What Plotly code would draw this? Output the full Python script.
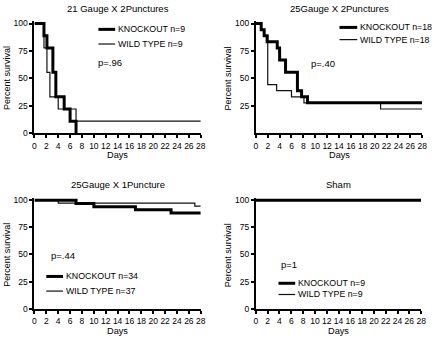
import plotly.graph_objects as go

W, H = 436, 341

# ---------------- data ----------------
titles = ["21 Gauge X 2Punctures", "25Gauge X 2Punctures", "25Gauge X 1Puncture", "Sham"]
p_values = ["p=.96", "p=.40", "p=.44", "p=1"]
ko_labels = ["KNOCKOUT n=9", "KNOCKOUT n=18", "KNOCKOUT n=34", "KNOCKOUT n=9"]
wt_labels = ["WILD TYPE n=9", "WILD TYPE n=18", "WILD TYPE n=37", "WILD TYPE n=9"]

p1_ko_days = [0, 1.6, 2.1, 3.1, 3.6, 5.0, 6.0, 7.0]
p1_ko_surv = [100, 88.9, 77.8, 55.6, 33.3, 22.2, 11.1, 0]
p1_wt_days = [0, 1.6, 2.1, 2.6, 4.0, 7.0, 28]
p1_wt_surv = [100, 77.8, 55.6, 33.3, 22.2, 11.1, 11.1]

p2_ko_days = [0, 0.9, 1.4, 1.9, 3.6, 4.0, 5.0, 7.0, 7.7, 8.7, 28]
p2_ko_surv = [100, 94.4, 88.9, 83.3, 77.8, 66.7, 55.6, 38.9, 33.3, 27.8, 27.8]
p2_wt_days = [0, 0.9, 1.4, 2.0, 3.5, 6.0, 8.1, 21.0, 28]
p2_wt_surv = [100, 94.4, 88.9, 44.4, 38.9, 33.3, 27.8, 22.2, 22.2]

p3_ko_days = [0, 7, 10, 17, 23, 28]
p3_ko_surv = [100, 97.1, 94.1, 91.2, 88.2, 88.2]
p3_wt_days = [0, 4, 27, 28]
p3_wt_surv = [100, 97.3, 94.6, 94.6]

p4_ko_days = [0, 28]
p4_ko_surv = [100, 100]
p4_wt_days = [0, 28]
p4_wt_surv = [100, 100]

x_ticks = list(range(0, 29, 2))
y_ticks_full = [0, 25, 50, 75, 100]
y_ticks_no0 = [25, 50, 75, 100]

# ---------------- layout geometry (pixels) ----------------
# (x0_px, x28_px, y0_px, y100_px)
panels = [
    (33, 202, 133.5, 21),
    (258, 427, 133.5, 21),
    (33, 202, 313, 202),
    (258, 426, 313, 202),
]
YMAX = 102.0

def px(xp):
    return xp / W

def py(yp):
    return 1 - yp / H

series = [
    (p1_ko_days, p1_ko_surv, p1_wt_days, p1_wt_surv),
    (p2_ko_days, p2_ko_surv, p2_wt_days, p2_wt_surv),
    (p3_ko_days, p3_ko_surv, p3_wt_days, p3_wt_surv),
    (p4_ko_days, p4_ko_surv, p4_wt_days, p4_wt_surv),
]

fig = go.Figure()
FONT = "Liberation Sans, Arial, sans-serif"
annotations = []
shapes = []

# legend & p-value placement (pixels): (line_x0, line_x1, ko_y, wt_y, p_x, p_y)
legend_pos = [
    (98, 115, 27, 42, 96, 61),
    (343, 361, 25, 37.5, 312, 62),
    (45, 62, 280, 295, 48, 259),
    (281, 298, 287, 298.5, 282, 268),
]
ylab_x = [5, 230, 5, 230]
ylab_y = [77, 77, 258, 258]
days_y = [156, 156, 335.5, 335.5]
title_y = [6, 6, 186, 186]

for i, (x0, x1, y0, y100) in enumerate(panels):
    n = "" if i == 0 else str(i + 1)
    xa, ya = "xaxis" + n, "yaxis" + n
    ytop = y0 - (y0 - y100) * YMAX / 100.0
    ko_d, ko_s, wt_d, wt_s = series[i]
    fig.add_trace(go.Scatter(x=wt_d, y=wt_s, mode="lines", line=dict(color="#111", width=1.2, shape="hv"),
                             xaxis="x" + n, yaxis="y" + n, showlegend=False, name=wt_labels[i]))
    fig.add_trace(go.Scatter(x=ko_d, y=ko_s, mode="lines", line=dict(color="#000", width=3, shape="hv"),
                             xaxis="x" + n, yaxis="y" + n, showlegend=False, name=ko_labels[i]))
    fig.layout[xa] = dict(domain=[px(x0), px(x1)], range=[0, 28], anchor="y" + n,
                          tickvals=x_ticks, ticktext=[str(t) for t in x_ticks],
                          showline=True, linecolor="black", linewidth=2, ticks="outside",
                          ticklen=3, tickwidth=1.5, tickcolor="black", showgrid=False, zeroline=False,
                          tickfont=dict(family=FONT, size=8.5, color="black"))
    fig.layout[ya] = dict(domain=[py(y0), py(ytop)], range=[0, YMAX], anchor="x" + n,
                          tickvals=(y_ticks_no0 if i == 1 else y_ticks_full),
                          showline=True, linecolor="black", linewidth=2, ticks="outside",
                          ticklen=3, tickwidth=1.5, tickcolor="black", showgrid=False, zeroline=False,
                          tickfont=dict(family=FONT, size=8.5, color="black"))
    cx = (x0 + x1) / 2
    annotations.append(dict(text=titles[i], x=px(cx), y=py(title_y[i]), xref="paper", yref="paper",
                            showarrow=False, font=dict(family=FONT, size=9.5, color="black"),
                            xanchor="center", yanchor="middle"))
    annotations.append(dict(text="Days", x=px(cx), y=py(days_y[i]), xref="paper", yref="paper",
                            showarrow=False, font=dict(family=FONT, size=9.2, color="black"),
                            xanchor="center", yanchor="middle"))
    annotations.append(dict(text="Percent survival", x=px(ylab_x[i]), y=py(ylab_y[i]), xref="paper",
                            yref="paper", textangle=-90, showarrow=False,
                            font=dict(family=FONT, size=9, color="black"),
                            xanchor="center", yanchor="middle"))
    lx0, lx1, ky, wy, pxp, pyp = legend_pos[i]
    shapes.append(dict(type="line", xref="paper", yref="paper", x0=px(lx0), x1=px(lx1),
                       y0=py(ky), y1=py(ky), line=dict(color="black", width=3)))
    shapes.append(dict(type="line", xref="paper", yref="paper", x0=px(lx0), x1=px(lx1),
                       y0=py(wy), y1=py(wy), line=dict(color="#111", width=1.2)))
    annotations.append(dict(text=ko_labels[i], x=px(lx1 + 1), y=py(ky), xref="paper", yref="paper",
                            showarrow=False, font=dict(family=FONT, size=8.8, color="black"),
                            xanchor="left", yanchor="middle"))
    annotations.append(dict(text=wt_labels[i], x=px(lx1 + 1), y=py(wy), xref="paper", yref="paper",
                            showarrow=False, font=dict(family=FONT, size=8.8, color="black"),
                            xanchor="left", yanchor="middle"))
    annotations.append(dict(text=p_values[i], x=px(pxp), y=py(pyp), xref="paper", yref="paper",
                            showarrow=False, font=dict(family=FONT, size=9.5, color="black"),
                            xanchor="left", yanchor="middle"))

fig.update_layout(width=W, height=H, margin=dict(l=0, r=0, t=0, b=0),
                  paper_bgcolor="white", plot_bgcolor="white",
                  annotations=annotations, shapes=shapes, showlegend=False)

fig.write_html("out.html", config={"displayModeBar": False},
               post_script="document.body.style.margin='0';document.body.style.overflow='hidden';")
